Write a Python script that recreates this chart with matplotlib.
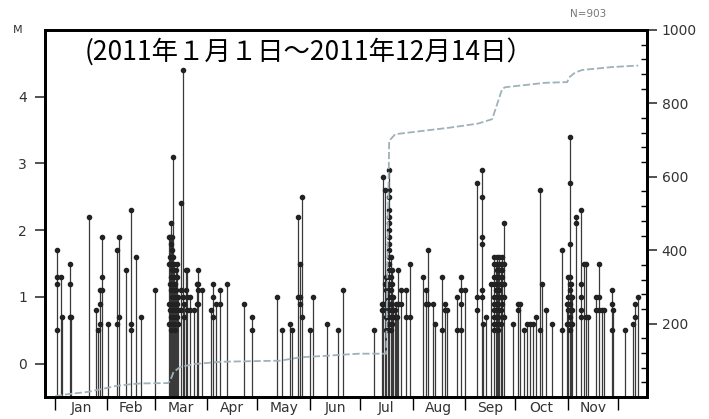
import matplotlib.pyplot as plt
import numpy as np

plt.rcParams['font.family'] = ['DejaVu Sans']

# event days (0 = Jan 1) and the magnitudes plotted on each stem
event_days = [
    1.0, 3.6, 4.3, 8.7, 9.3, 19.8, 24.1, 25.3, 26.7, 27.7, 31.6,
    36.8, 38.0, 42.1, 45.1, 48.0, 51.0,
    59.3, 67.6, 68.3, 69.0, 69.6, 69.8, 70.4, 71.0, 71.6, 72.1, 72.8,
    74.5, 75.7, 76.4, 77.5, 78.1, 79.7, 82.3, 84.2, 85.0, 87.0,
    92.3, 93.9, 95.5, 97.5, 101.8, 112.1, 116.7,
    131.5, 134.8, 139.4, 140.7, 144.0, 145.3, 146.7, 151.2, 153.2,
    161.1, 168.0, 171.0,
    189.4, 193.7, 194.7, 195.7, 196.5, 197.3, 198.3, 199.0, 199.7,
    200.5, 201.3, 202.0, 202.7, 203.6, 205.0, 208.2, 210.2,
    218.1, 220.0, 221.4, 224.0, 225.4, 229.3, 231.3, 232.3, 238.6,
    240.8, 243.2,
    250.1, 253.1, 254.0, 255.6, 258.4, 260.4, 261.2, 262.0, 262.8,
    263.5, 264.3, 265.0, 266.0, 271.3,
    274.8, 275.8, 277.8, 279.8, 281.7, 283.3, 285.1, 287.7, 289.0,
    291.0, 294.6, 300.9, 303.5,
    304.4, 305.1, 305.8, 306.5, 309.0, 311.8, 313.4, 315.0, 316.3,
    320.9, 322.3, 324.2, 325.6, 330.2, 331.1, 337.7, 342.6, 344.0,
    345.4,
]
event_mags = [
    [1.7, 1.3, 1.2, 0.5], [1.3], [0.7], [1.5, 1.2, 0.7], [0.7], [2.2],
    [0.8], [0.5], [1.1, 0.9, 0.6], [1.9, 1.3, 1.1], [0.6],
    [1.7, 0.6], [1.9, 0.7], [1.4], [2.3, 0.6, 0.5], [1.6], [0.7],
    [1.1], [1.9, 1.5, 0.9, 0.6], [1.9, 1.6, 1.2, 0.8],
    [2.1, 1.8, 1.6, 1.5, 1.3, 1.1, 0.9, 0.7, 0.5],
    [1.9, 1.7, 1.5, 1.4, 1.2, 1.0, 0.8, 0.6],
    [3.1, 1.6, 1.1, 0.9, 0.7], [1.5, 1.3, 1.1, 0.9, 0.6],
    [1.2, 1.0, 0.8, 0.5], [1.4, 1.1, 0.9, 0.7], [1.5, 1.3, 0.9, 0.7],
    [1.0, 0.8, 0.6], [2.4, 1.1, 0.8], [4.4, 1.0], [0.9, 0.7],
    [1.4, 1.1], [1.4, 1.0, 0.8], [1.0, 0.8], [0.8], [1.2, 0.9],
    [1.4, 1.2, 1.1, 0.9], [1.1],
    [0.8], [1.2, 1.0, 0.7], [0.9], [1.1, 0.9], [1.2], [0.9], [0.7, 0.5],
    [1.0], [0.5], [0.6], [0.5], [2.2, 1.0], [1.5, 1.0, 0.9],
    [2.5, 0.7], [0.5], [1.0],
    [0.6], [0.5], [1.1],
    [0.5], [0.9, 0.8], [2.8, 0.9, 0.8], [2.6, 1.2, 0.9],
    [1.3, 1.1, 0.9, 0.7, 0.5], [1.2, 1.0, 0.8, 0.6],
    [2.9, 2.6, 2.5, 2.3, 2.2, 2.1, 2.0, 1.9, 1.8, 1.7, 1.6, 1.5, 1.4,
     1.3, 1.2, 1.1, 1.0, 0.9, 0.8, 0.7, 0.6, 0.5],
    [1.6, 1.3, 1.1, 0.9, 0.7, 0.5], [1.4, 1.2, 1.0, 0.8, 0.6],
    [1.0, 0.8, 0.7], [0.8, 0.7], [0.9, 0.7], [0.7], [1.4, 0.9],
    [1.1, 0.9], [1.1, 0.7], [1.5, 0.7],
    [1.3], [1.1, 0.9], [1.7, 0.9], [0.9], [0.6], [1.3, 0.5], [0.9, 0.8],
    [0.8], [1.0, 0.5], [1.3, 1.1, 0.9, 0.5], [1.1],
    [2.7, 1.0, 0.8], [2.9, 2.5, 1.9, 1.8, 1.1, 1.0], [0.6], [0.7], [1.2],
    [1.6, 1.5, 1.3, 1.2, 1.0, 0.9, 0.8, 0.7, 0.6, 0.5],
    [1.5, 1.3, 1.1, 0.9, 0.7], [1.6, 1.4, 1.2, 1.0, 0.8, 0.6],
    [1.5, 1.3, 1.1, 0.9, 0.7, 0.5], [1.6, 1.4, 1.3, 1.1, 1.0, 0.8],
    [1.5, 1.2, 1.0, 0.8, 0.6], [1.6, 1.5, 1.4, 1.3, 1.2, 0.9, 0.7],
    [2.1, 1.5, 1.2, 1.0, 0.7], [0.6],
    [0.9, 0.8], [0.9], [0.5], [0.6], [0.6], [0.6], [0.7], [2.6, 0.5],
    [1.2], [0.8], [0.6], [1.7, 0.5], [0.9, 0.6],
    [1.3, 1.0, 0.8, 0.6], [3.4, 2.7, 1.8, 1.3, 1.2, 1.1, 1.0, 0.9, 0.8,
     0.7, 0.6, 0.5], [1.2, 1.0, 0.8, 0.6], [1.0, 0.8, 0.6], [2.2, 2.1],
    [2.3, 1.2, 1.0, 0.8, 0.7], [1.5], [1.5, 0.7], [0.7], [1.0, 0.8],
    [1.5, 1.0, 0.8], [0.8], [0.8], [1.1, 0.9, 0.5], [0.8], [0.5], [0.6],
    [0.9, 0.7], [1.0],
]

# cumulative number of events
cum_days = [0, 8, 19.6, 28, 36, 45, 51, 67, 68.3, 70.2, 74.3, 83.2,
            98.1, 133.5, 145.3, 163.1, 180, 196.4, 196.9, 198.1, 201.7,
            234.3, 250.9, 259.2, 265.1, 266.9, 290.6, 303.7, 304.9,
            308.4, 312.6, 330.4, 345.8]
cum_counts = [2, 8, 14, 22, 30, 35, 37, 38, 45, 68, 82, 90, 96, 99, 108,
              113, 118, 118, 300, 698, 716, 734, 745, 757, 839, 844, 856,
              858, 871, 884, 891, 899, 903]

month_starts = [0, 31, 59, 90, 120, 151, 181, 212, 243, 273, 304, 334]
month_names = ['Jan', 'Feb', 'Mar', 'Apr', 'May', 'Jun',
               'Jul', 'Aug', 'Sep', 'Oct', 'Nov']

fig = plt.figure(figsize=(7.09, 4.19), dpi=100)
ax = fig.add_axes([0.0635, 0.0525, 0.849, 0.876])

x_all = np.concatenate([[d] * len(m) for d, m in zip(event_days, event_mags)])
m_all = np.concatenate(event_mags)
ax.vlines(event_days, -0.5, [max(m) for m in event_mags],
          colors='#3a3a3a', linewidth=0.9, zorder=2)
ax.plot(x_all, m_all, 'o', color='#222222', markersize=3.0, zorder=3)

ax.set_xlim(-6, 351)
ax.set_ylim(-0.5, 5)
ax.set_yticks([0, 1, 2, 3, 4])
ax.tick_params(axis='y', direction='out', length=7, width=1.2, pad=6,
               labelsize=10, colors='#333333')
ax.set_xticks(month_starts)
ax.set_xticklabels([])
ax.tick_params(axis='x', which='major', direction='out', length=9,
               width=1, pad=2)
mids = [(month_starts[i] + month_starts[i + 1]) / 2 for i in range(11)]
ax.set_xticks(mids, minor=True)
ax.set_xticklabels(month_names, minor=True, fontsize=10, color='#333333')
ax.tick_params(axis='x', which='minor', length=0, pad=3)
for s in ax.spines.values():
    s.set_linewidth(2.0)

ax2 = ax.twinx()
ax2.plot(cum_days, cum_counts, color='#9fb1ba', linewidth=1.3,
         dashes=(4, 1.5), zorder=1)
ax2.set_ylim(0, 1000)
ax2.set_yticks([200, 400, 600, 800, 1000])
ax2.set_yticks(np.arange(40, 1000, 40), minor=True)
ax2.tick_params(axis='y', which='major', direction='out', length=7,
                width=1.2, labelsize=10, colors='#333333')
ax2.tick_params(axis='y', which='minor', direction='in', length=4,
                width=1)
for s in ax2.spines.values():
    s.set_linewidth(2.0)

ax.text(0.066, 0.94, '(2011年１月１日～2011年12月14日）',
        transform=ax.transAxes, fontsize=19, va='center', ha='left',
        family=['Noto Sans CJK JP', 'DejaVu Sans'])
fig.text(18 / 709, 1 - 30 / 419, 'M', fontsize=8, color='#333333',
         ha='center', va='center')
fig.text(588 / 709, 1 - 14 / 419, 'N=903', fontsize=7.5, color='#777777',
         ha='center', va='center')

fig.savefig('out.png', dpi=100)
